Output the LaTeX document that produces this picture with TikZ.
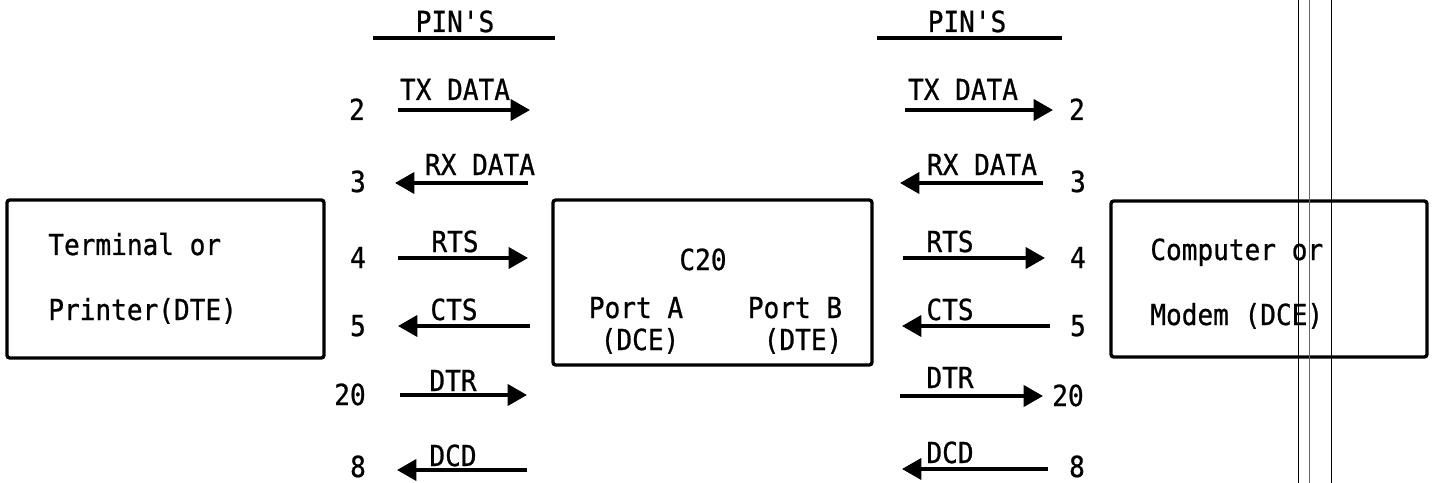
\documentclass[tikz,border=0pt]{standalone}
\usepackage{fontspec}
\newfontfamily\typew[FakeStretch=0.9, FakeBold=0.8]{DejaVu Sans Mono}
\usetikzlibrary{arrows.meta}

\begin{document}
\begin{tikzpicture}[x=0.02cm, y=-0.02cm,
    unitbox/.style={draw, line width=1.9pt, rounded corners=1.5pt, inner sep=0pt},
    sig/.style={-{Triangle[length=11pt, width=12pt]}, line width=2pt},
    txt/.style={font=\typew\fontsize{16.5}{19}\selectfont, inner sep=0pt, anchor=base}]
    \useasboundingbox (0,0) rectangle (1434,483);

    % boxes
    \node[unitbox, minimum width=6.34cm, minimum height=3.16cm] (term) at (165.5,279) {};
    \node[unitbox, minimum width=6.38cm, minimum height=3.30cm] (cbox) at (712.5,282.5) {};
    \node[unitbox, minimum width=6.32cm, minimum height=3.12cm] (comp) at (1269,279) {};

    \node[txt, anchor=base west] (term1) at (48,255) {Terminal or};
    \node[txt, anchor=base west] (term2) at (48,320) {Printer(DTE)};
    \node[txt] (c20) at (703,270) {C20};
    \node[txt] (portA) at (636,318) {Port A};
    \node[txt] (dceA) at (640,350) {(DCE)};
    \node[txt] (portB) at (795,318) {Port B};
    \node[txt] (dteB) at (803,350) {(DTE)};
    \node[txt, anchor=base west] (comp1) at (1150,260) {Computer or};
    \node[txt, anchor=base west] (comp2) at (1150,325) {Modem (DCE)};

    % pin headings
    \node[txt] (pinsL) at (455,32) {PIN'S};
    \node[txt] (pinsR) at (967,32) {PIN'S};
    \coordinate (hL1) at (373,38);
    \coordinate (hL2) at (555,38);
    \coordinate (hR1) at (877,38);
    \coordinate (hR2) at (1062,38);
    \draw[line width=2pt] (hL1) -- (hL2);
    \draw[line width=2pt] (hR1) -- (hR2);

    % pin numbers, left side
    \node[txt] (pL2) at (357,120) {2};
    \node[txt] (pL3) at (358,192) {3};
    \node[txt] (pL4) at (358,268) {4};
    \node[txt] (pL5) at (358,336) {5};
    \node[txt] (pL20) at (350,405) {20};
    \node[txt] (pL8) at (358,477) {8};

    % pin numbers, right side
    \node[txt] (pR2) at (1077,120) {2};
    \node[txt] (pR3) at (1078,192) {3};
    \node[txt] (pR4) at (1078,268) {4};
    \node[txt] (pR5) at (1078,336) {5};
    \node[txt] (pR20) at (1068,406) {20};
    \node[txt] (pR8) at (1077,477) {8};

    % arrow ends, left side
    \coordinate (lTXa) at (398,110);  \coordinate (lTXb) at (530,110);
    \coordinate (lRXa) at (528,183);  \coordinate (lRXb) at (395,183);
    \coordinate (lRTa) at (398,258);  \coordinate (lRTb) at (528,258);
    \coordinate (lCTa) at (530,326);  \coordinate (lCTb) at (398,326);
    \coordinate (lDTa) at (400,395);  \coordinate (lDTb) at (527,395);
    \coordinate (lDCa) at (527,470);  \coordinate (lDCb) at (397,470);

    % arrow ends, right side
    \coordinate (rTXa) at (905,110);  \coordinate (rTXb) at (1053,110);
    \coordinate (rRXa) at (1043,183); \coordinate (rRXb) at (900,183);
    \coordinate (rRTa) at (903,258);  \coordinate (rRTb) at (1045,258);
    \coordinate (rCTa) at (1050,326); \coordinate (rCTb) at (902,326);
    \coordinate (rDTa) at (900,396);  \coordinate (rDTb) at (1043,396);
    \coordinate (rDCa) at (1048,469); \coordinate (rDCb) at (902,469);

    \draw[sig] (lTXa) -- (lTXb);
    \draw[sig] (lRXa) -- (lRXb);
    \draw[sig] (lRTa) -- (lRTb);
    \draw[sig] (lCTa) -- (lCTb);
    \draw[sig] (lDTa) -- (lDTb);
    \draw[sig] (lDCa) -- (lDCb);
    \draw[sig] (rTXa) -- (rTXb);
    \draw[sig] (rRXa) -- (rRXb);
    \draw[sig] (rRTa) -- (rRTb);
    \draw[sig] (rCTa) -- (rCTb);
    \draw[sig] (rDTa) -- (rDTb);
    \draw[sig] (rDCa) -- (rDCb);

    % signal names
    \node[txt] (lTX) at (455,100) {TX DATA};
    \node[txt] (lRX) at (480,175) {RX DATA};
    \node[txt] (lRT) at (455,252) {RTS};
    \node[txt] (lCT) at (454,320) {CTS};
    \node[txt] (lDT) at (453,391) {DTR};
    \node[txt] (lDC) at (453,466) {DCD};
    \node[txt] (rTX) at (963,100) {TX DATA};
    \node[txt] (rRX) at (982,175) {RX DATA};
    \node[txt] (rRT) at (950,252) {RTS};
    \node[txt] (rCT) at (950,320) {CTS};
    \node[txt] (rDT) at (950,388) {DTR};
    \node[txt] (rDC) at (950,463) {DCD};

    % scanner lines
    \draw[line width=0.5pt] (1298,0) -- (1298,483);
    \draw[line width=0.3pt, black!60] (1309,0) -- (1309,483);
    \draw[line width=0.5pt] (1331,0) -- (1331,483);
\end{tikzpicture}
\end{document}
